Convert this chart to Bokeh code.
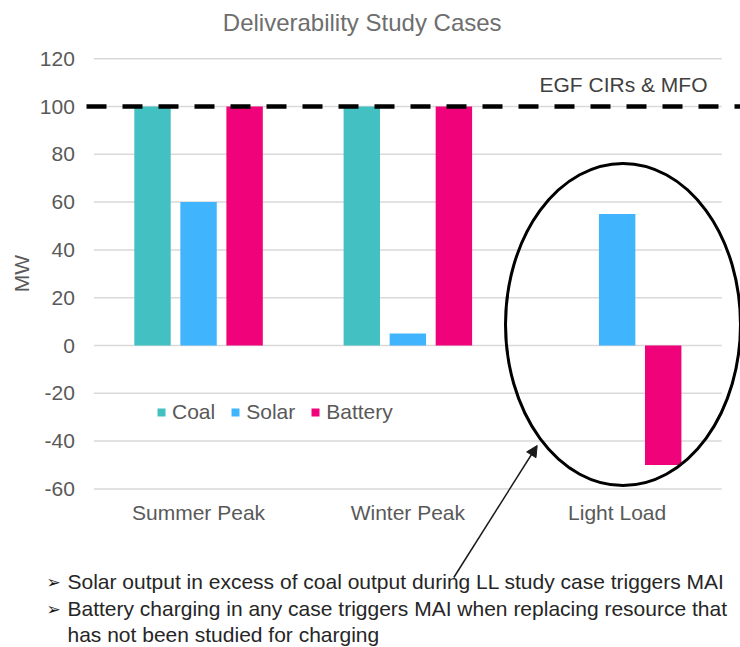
from bokeh.plotting import figure
from bokeh.models import (Range1d, FixedTicker, Label, Arrow, NormalHead,
                          Legend, LegendItem, ColumnDataSource)
from bokeh.embed import file_html
from bokeh.resources import INLINE

# ---------------- data ----------------
cases = ["Summer Peak", "Winter Peak", "Light Load"]
coal = [100, 100, 0]
solar = [60, 5, 55]
battery = [100, 100, -50]
series_names = ["Coal", "Solar", "Battery"]
y_ticks = [-60, -40, -20, 0, 20, 40, 60, 80, 100, 120]
threshold = 100
threshold_label = "EGF CIRs & MFO"
title_text = "Deliverability Study Cases"
y_label = "MW"
bullets = [
    "Solar output in excess of coal output during LL study case triggers MAI",
    "Battery charging in any case triggers MAI when replacing resource that",
    "has not been studied for charging",
]

# ---------------- layout constants (pixels) ----------------
W, H = 740, 647
X0 = 93.4          # pixel column of the left edge of the category span
Y0 = 345.0         # pixel row of the 0 MW line
PX_PER_CASE = 209.3
PX_PER_MW = 2.39
BASE_FIX = 8       # label baseline correction (px)


def dx(sx):
    return (sx - X0) / PX_PER_CASE


def dy(sy):
    return (Y0 - sy) / PX_PER_MW


def dyt(sy):
    return dy(sy - BASE_FIX)


colors = {"Coal": "#43C1C2", "Solar": "#40B5FE", "Battery": "#F0027A"}
offsets = {"Coal": -0.22, "Solar": 0.0, "Battery": 0.22}
bar_w = 0.174
GREY = "#595959"
FONT = "Liberation Sans"
FS = "21px"

p = figure(width=W, height=H, x_range=Range1d(dx(0), dx(W)),
           y_range=Range1d(dy(H), dy(0)), output_backend="svg",
           toolbar_location=None, min_border=0, min_border_left=0,
           min_border_right=0, min_border_top=0, min_border_bottom=0,
           outline_line_color=None)
p.xgrid.visible = False
p.ygrid.visible = False

centers = [i + 0.5 for i in range(len(cases))]

# gridlines limited to the category span
p.segment(x0=[0] * len(y_ticks), x1=[len(cases)] * len(y_ticks),
          y0=y_ticks, y1=y_ticks, line_color="#D9D9D9", line_width=1.5)

values = {"Coal": coal, "Solar": solar, "Battery": battery}
renderers = []
for name in series_names:
    src = ColumnDataSource(dict(x=[c + offsets[name] for c in centers],
                                top=values[name]))
    r = p.vbar(x="x", top="top", bottom=0, width=bar_w, source=src,
               fill_color=colors[name], line_color=None)
    renderers.append(r)

# threshold dashed line
p.add_layout(Arrow(end=None, x_start=dx(86), y_start=threshold,
                   x_end=dx(760), y_end=threshold, line_dash="20 16",
                   line_width=4.5, line_color="black"))
p.add_layout(Label(x=dx(707), y=dyt(91.5), text=threshold_label,
                   text_align="right", text_baseline="alphabetic",
                   text_font=FONT, text_font_size=FS,
                   text_color="#404040"))

# ellipse highlight
p.ellipse(x=[dx(622.5)], y=[dy(324)], width=[235 / PX_PER_CASE],
          height=[322 / PX_PER_MW], fill_color=None, line_color="black",
          line_width=3)

# pointer arrow
p.add_layout(Arrow(end=NormalHead(size=11, fill_color="#1a1a1a",
                                  line_color="#1a1a1a", line_width=1),
                   x_start=dx(453.3), y_start=dy(577), x_end=dx(536.7),
                   y_end=dy(445), line_width=1.5, line_color="#1a1a1a"))

# axes (drawn inside the full-canvas frame)
p.yaxis.fixed_location = 0
p.yaxis.bounds = (y_ticks[0], y_ticks[-1])
p.yaxis.ticker = FixedTicker(ticks=y_ticks)
p.yaxis.major_label_overrides = {t: str(t) for t in y_ticks}
p.yaxis.axis_line_color = None
p.yaxis.major_tick_line_color = None
p.yaxis.minor_tick_line_color = None
p.yaxis.major_tick_out = 0
p.yaxis.major_tick_in = 0
p.yaxis.major_label_standoff = 19
p.yaxis.major_label_text_font = FONT
p.yaxis.major_label_text_font_size = FS
p.yaxis.major_label_text_color = GREY
p.yaxis.axis_label = y_label
p.yaxis.axis_label_text_font = FONT
p.yaxis.axis_label_text_font_size = FS
p.yaxis.axis_label_text_font_style = "normal"
p.yaxis.axis_label_text_color = GREY
p.yaxis.axis_label_standoff = 3

p.xaxis.fixed_location = y_ticks[0]
p.xaxis.ticker = FixedTicker(ticks=centers)
p.xaxis.major_label_overrides = {c: n for c, n in zip(centers, cases)}
p.xaxis.axis_line_color = None
p.xaxis.major_tick_line_color = None
p.xaxis.minor_tick_line_color = None
p.xaxis.major_tick_out = 0
p.xaxis.major_tick_in = 0
p.xaxis.major_label_standoff = 12
p.xaxis.major_label_text_font = FONT
p.xaxis.major_label_text_font_size = FS
p.xaxis.major_label_text_color = GREY

# legend
legend = Legend(items=[LegendItem(label=n, renderers=[r])
                       for n, r in zip(series_names, renderers)],
                orientation="horizontal", location=(156, 222.7),
                glyph_width=10, glyph_height=10, label_standoff=6,
                spacing=15, padding=0, margin=0, border_line_color=None,
                background_fill_alpha=0, label_text_font=FONT,
                label_text_font_size=FS, label_text_color=GREY)
p.add_layout(legend)

# title
p.add_layout(Label(x=dx(361.7), y=dyt(30), text=title_text,
                   text_align="center", text_baseline="alphabetic",
                   text_font=FONT, text_font_size="24px",
                   text_color="#6E6E6E"))

# bullet notes
baselines = [589, 616, 642]
for i, (txt, b) in enumerate(zip(bullets, baselines)):
    if i < 2:
        p.add_layout(Label(x=dx(46), y=dyt(b), text="\u27a2",
                           text_align="left", text_baseline="alphabetic",
                           text_font="DejaVu Sans", text_font_size="17px",
                           text_color="#1a1a1a"))
    p.add_layout(Label(x=dx(67), y=dyt(b), text=txt, text_align="left",
                       text_baseline="alphabetic", text_font=FONT,
                       text_font_size=FS, text_color="#262626"))

open("out.html", "w").write(file_html(p, INLINE))
